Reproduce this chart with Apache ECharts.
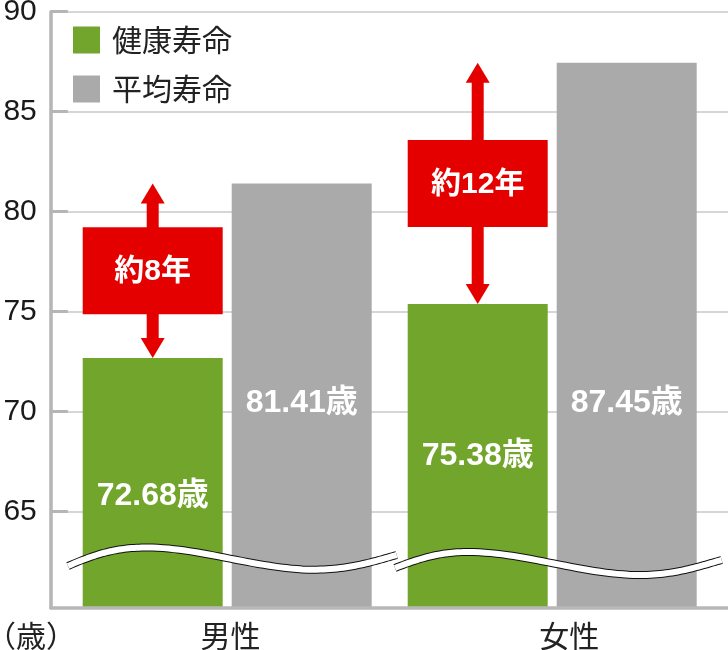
<!DOCTYPE html>
<html><head><meta charset="utf-8">
<script src="https://cdn.jsdelivr.net/npm/echarts@6/dist/echarts.min.js"></script>
<style>html,body{margin:0;padding:0;background:#fff}#c{width:728px;height:650px}</style>
</head><body><div id="c"></div>
<script>
// ---- data ----
const categories = ['男性', '女性'];
const healthyLife = [72.68, 75.38];
const averageLife = [81.41, 87.45];
const gapLabels = ['約8年', '約12年'];
const seriesNames = ['健康寿命', '平均寿命'];
const yTicks = [65, 70, 75, 80, 85, 90];
const unitLabel = '（歳）';
const valueSuffix = '歳';

// ---- layout & style ----
const Y_MIN = 60.2, Y_MAX = 90;
const GRID_TOP = 11.7, GRID_H = 596;
const PX_PER_UNIT = GRID_H / (Y_MAX - Y_MIN);
const BAR_W = 140, BAR_GAP_PX = 9;
const healthyLabelAt = [65.8, 67.8];
const averageLabelAt = [70.45, 70.45];
const GREEN = '#72a52c', GRAY = '#aaaaaa', RED = '#e50000';
const LATIN = '"Liberation Sans", Arial, "Noto Sans CJK JP", sans-serif';
const CJK = '"Noto Sans CJK JP", "Liberation Sans", sans-serif';
// decorative axis-break wave: start point followed by cubic segments [c1x,c1y,c2x,c2y,x,y]
const waveShapes = [
  { start: [68, 566], segs: [[100, 552, 120, 547.5, 147, 547.5], [200, 547.5, 260, 569.7, 313, 569.7], [350, 569.7, 375, 561, 396.7, 555]] },
  { start: [395, 568], segs: [[425, 556, 445, 552, 468, 552], [525, 552, 583, 575, 640, 575], [675, 575, 700, 566, 721.7, 560]] }
];
function wavePoints(w) {
  const pts = [w.start.slice()];
  let p0 = w.start;
  w.segs.forEach(s => {
    for (let k = 1; k <= 30; k++) {
      const t = k / 30, u = 1 - t;
      pts.push([
        u * u * u * p0[0] + 3 * u * u * t * s[0] + 3 * u * t * t * s[2] + t * t * t * s[4],
        u * u * u * p0[1] + 3 * u * u * t * s[1] + 3 * u * t * t * s[3] + t * t * t * s[5]
      ]);
    }
    p0 = [s[4], s[5]];
  });
  return pts;
}

const chart = echarts.init(document.getElementById('c'), null, { renderer: 'canvas' });

function barLabel(fontSize) {
  return {
    show: true,
    formatter: p => p.value.toFixed(2) + valueSuffix,
    color: '#fff', fontSize: fontSize, fontWeight: 'bold', fontFamily: LATIN,
    align: 'center', verticalAlign: 'middle'
  };
}

const option = {
  backgroundColor: '#fff',
  animation: false,
  title: {
    text: unitLabel, left: -14, top: 621, padding: 0,
    textStyle: { fontSize: 30, fontWeight: 'normal', color: '#222', fontFamily: CJK }
  },
  legend: {
    orient: 'vertical', left: 73, top: 25, padding: 0,
    itemWidth: 27, itemHeight: 27, itemGap: 19, icon: 'rect', selectedMode: false,
    data: seriesNames,
    textStyle: { fontSize: 30, lineHeight: 27, color: '#222', fontFamily: CJK, padding: [0, 0, 0, 7] }
  },
  grid: [
    { left: 50.8, right: 0, top: GRID_TOP, height: GRID_H, outerBoundsMode: 'none' },
    { left: 64.7, width: 650, top: GRID_TOP, height: GRID_H, outerBoundsMode: 'none' }
  ],
  xAxis: [
    {
      type: 'category', gridIndex: 0, data: categories, z: 5,
      axisLine: { show: true, lineStyle: { color: '#b8b8b8', width: 3.5 } },
      axisTick: { show: false },
      splitLine: { show: false },
      axisLabel: { fontSize: 30, color: '#222', fontFamily: CJK, margin: 13, padding: [0, 0, 0, 21] }
    },
    { type: 'category', gridIndex: 1, data: categories, show: false }
  ],
  yAxis: [
    {
      type: 'value', gridIndex: 0, min: Y_MIN, max: Y_MAX,
      axisLine: { show: true, lineStyle: { color: '#b5b5b5', width: 3.5 } },
      axisTick: { show: true, inside: true, length: 17, customValues: yTicks, lineStyle: { color: '#b5b5b5', width: 3 } },
      axisLabel: { customValues: yTicks, fontSize: 30, color: '#1a1a1a', fontFamily: LATIN, margin: 14 },
      splitLine: { show: true, lineStyle: { color: '#d6d6d6', width: 2 } }
    },
    { type: 'value', gridIndex: 1, min: Y_MIN, max: Y_MAX, show: false, splitLine: { show: false } }
  ],
  series: [
    {
      type: 'bar', name: seriesNames[0], xAxisIndex: 1, yAxisIndex: 1,
      barWidth: BAR_W, barGap: (BAR_GAP_PX / BAR_W * 100) + '%',
      itemStyle: { color: GREEN }, z: 2,
      label: barLabel(32),
      data: healthyLife.map((v, i) => ({ value: v, label: { position: ['50%', (v - healthyLabelAt[i]) * PX_PER_UNIT] } }))
    },
    {
      type: 'bar', name: seriesNames[1], xAxisIndex: 1, yAxisIndex: 1,
      barWidth: BAR_W, barGap: (BAR_GAP_PX / BAR_W * 100) + '%',
      itemStyle: { color: GRAY }, z: 2,
      label: barLabel(32),
      data: averageLife.map((v, i) => ({ value: v, label: { position: ['50%', (v - averageLabelAt[i]) * PX_PER_UNIT] } }))
    },
    {
      type: 'custom', xAxisIndex: 1, yAxisIndex: 1, z: 6, silent: true, clip: false,
      data: categories.map((c, i) => [i, healthyLife[i], averageLife[i]]),
      renderItem: function (params, api) {
        const i = api.value(0);
        const lo = api.coord([i, api.value(1)]);
        const hi = api.coord([i, api.value(2)]);
        const x = lo[0] - (BAR_W + BAR_GAP_PX) / 2;
        const headW = 24, headH = 20, shaftW = 12, boxH = 87;
        const midY = (lo[1] + hi[1]) / 2;
        return {
          type: 'group',
          children: [
            { type: 'rect', shape: { x: x - shaftW / 2, y: hi[1] + headH - 1, width: shaftW, height: lo[1] - hi[1] - 2 * headH + 2 }, style: { fill: RED } },
            { type: 'polygon', shape: { points: [[x, hi[1]], [x - headW / 2, hi[1] + headH], [x + headW / 2, hi[1] + headH]] }, style: { fill: RED } },
            { type: 'polygon', shape: { points: [[x, lo[1]], [x - headW / 2, lo[1] - headH], [x + headW / 2, lo[1] - headH]] }, style: { fill: RED } },
            { type: 'rect', shape: { x: x - BAR_W / 2, y: midY - boxH / 2, width: BAR_W, height: boxH }, style: { fill: RED } },
            { type: 'text', style: { text: gapLabels[params.dataIndex], x: x, y: midY + 1, align: 'center', verticalAlign: 'middle', fill: '#fff', fontSize: 30, fontWeight: 'bold', fontFamily: LATIN } }
          ]
        };
      }
    }
  ],
  graphic: {
    elements: waveShapes.flatMap(w => {
      const pts = wavePoints(w);
      return [
        { type: 'polyline', z: 100, shape: { points: pts }, style: { fill: null, stroke: '#111', lineWidth: 8 } },
        { type: 'polyline', z: 101, shape: { points: pts }, style: { fill: null, stroke: '#fff', lineWidth: 6 } }
      ];
    })
  }
};
chart.setOption(option);
</script>
</body></html>
